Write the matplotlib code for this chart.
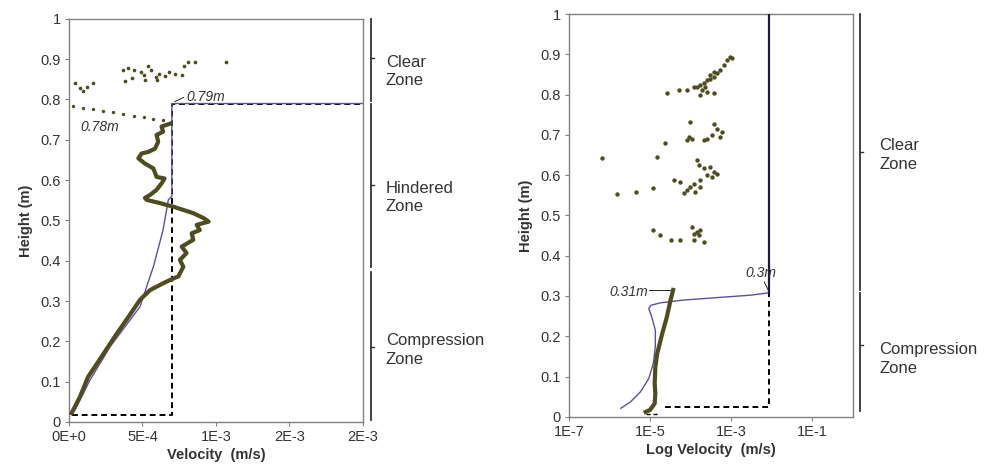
import numpy as np
import matplotlib
matplotlib.use("Agg")
import matplotlib.pyplot as plt

plt.rcParams['font.family'] = ['Liberation Sans', 'DejaVu Sans']

# ---- left panel data (velocity, height) ----
exp_v = [1.8e-5, 7.5e-5, 1.3e-4, 2.2e-4, 3.1e-4, 4.05e-4, 4.83e-4, 5.51e-4, 6.4e-4, 7.1e-4,
         7.44e-4, 7.78e-4, 7.55e-4, 8.0e-4, 7.67e-4, 8.46e-4, 8.35e-4, 8.9e-4, 8.69e-4, 9.5e-4,
         9.2e-4, 8.46e-4, 7.1e-4, 6.19e-4, 5.28e-4, 5.17e-4, 5.51e-4, 5.96e-4, 6.3e-4, 6.5e-4,
         5.96e-4, 5.74e-4, 5.17e-4, 4.72e-4, 4.94e-4, 5.4e-4, 5.85e-4, 6.07e-4, 5.96e-4, 6.4e-4,
         6.3e-4, 6.87e-4]
exp_h = [0.022, 0.063, 0.112, 0.161, 0.211, 0.261, 0.303, 0.327, 0.344, 0.356,
         0.361, 0.385, 0.402, 0.419, 0.435, 0.452, 0.468, 0.476, 0.489, 0.497,
         0.505, 0.518, 0.534, 0.543, 0.551, 0.556, 0.563, 0.576, 0.592, 0.604,
         0.608, 0.629, 0.641, 0.654, 0.666, 0.670, 0.678, 0.695, 0.712, 0.720,
         0.733, 0.740]

tail_v = [6.4e-4, 5.7e-4, 5.1e-4, 4.4e-4, 3.7e-4, 3.0e-4, 2.3e-4, 1.65e-4, 9.8e-5, 2.9e-5]
tail_h = [0.748, 0.752, 0.756, 0.759, 0.763, 0.768, 0.772, 0.776, 0.778, 0.783]

clear_v = [4.1e-5, 7.5e-5, 1.2e-4, 1.65e-4, 9.7e-5, 3.7e-4, 4.0e-4, 4.4e-4, 4.9e-4, 5.4e-4,
           5.6e-4, 5.9e-4, 6.1e-4, 6.5e-4, 6.8e-4, 7.2e-4, 7.7e-4, 7.8e-4, 8.1e-4, 8.6e-4,
           1.07e-3, 3.8e-4, 5.2e-4, 6.0e-4, 5.1e-4, 4.3e-4]
clear_h = [0.840, 0.828, 0.830, 0.840, 0.822, 0.873, 0.878, 0.873, 0.869, 0.882,
           0.872, 0.855, 0.864, 0.859, 0.869, 0.864, 0.861, 0.882, 0.894, 0.894,
           0.892, 0.845, 0.849, 0.849, 0.861, 0.853]

model_v = [4.1e-5, 1.43e-4, 2.8e-4, 4.83e-4, 5.74e-4, 6.4e-4, 6.76e-4, 7.0e-4, 7.0e-4, 2.0e-3]
model_h = [0.030, 0.104, 0.187, 0.286, 0.385, 0.476, 0.551, 0.560, 0.790, 0.790]

ideal_v = [1.8e-5, 7.0e-4, 7.0e-4, 2.0e-3]
ideal_h = [0.017, 0.017, 0.790, 0.790]

# ---- right panel data ----
exp2_v = [7.8e-6, 1.0e-5, 1.3e-5, 1.35e-5, 1.3e-5, 1.35e-5, 1.5e-5, 2.0e-5, 2.6e-5, 3.2e-5, 3.7e-5]
exp2_h = [0.012, 0.017, 0.033, 0.058, 0.083, 0.124, 0.157, 0.207, 0.248, 0.290, 0.315]

dots2_v = [7.8e-4, 9.4e-4, 1.04e-3, 6.5e-4, 5.4e-4, 4.4e-4, 3.7e-4, 3.0e-4, 2.5e-4, 2.1e-4,
           1.7e-4, 1.4e-4, 1.2e-4, 3.7e-4, 3.0e-4, 2.3e-4, 1.9e-4, 2.5e-4, 3.7e-4, 1.7e-4,
           5.1e-5, 2.6e-5, 8.1e-5,
           9.8e-5, 3.7e-4, 4.4e-4, 5.9e-4, 5.4e-4, 3.3e-4, 2.5e-4, 2.1e-4, 8.9e-5, 8.1e-5,
           1.1e-4, 2.4e-5,
           1.5e-5, 6.6e-7, 1.4e-4, 1.6e-4, 2.1e-4, 3.0e-4, 3.7e-4, 3.3e-4, 4.4e-4, 2.5e-4,
           1.7e-4, 1.2e-4, 9.8e-5, 8.1e-5, 6.7e-5, 1.3e-4, 1.7e-4, 3.8e-5, 5.6e-5, 1.2e-5,
           4.4e-6, 1.5e-6,
           1.2e-5, 1.8e-5, 3.2e-5, 5.6e-5, 1.2e-4, 1.4e-4, 1.7e-4, 2.1e-4, 1.2e-4, 1.6e-4,
           1.1e-4]
dots2_h = [0.886, 0.894, 0.890, 0.873, 0.861, 0.853, 0.844, 0.840, 0.836, 0.828,
           0.824, 0.820, 0.820, 0.857, 0.849, 0.820, 0.811, 0.807, 0.803, 0.799,
           0.811, 0.803, 0.811,
           0.733, 0.728, 0.716, 0.708, 0.695, 0.700, 0.691, 0.687, 0.695, 0.687,
           0.691, 0.679,
           0.646, 0.642, 0.637, 0.625, 0.617, 0.621, 0.608, 0.596, 0.604, 0.600,
           0.588, 0.579, 0.571, 0.563, 0.555, 0.559, 0.571, 0.588, 0.584, 0.567,
           0.559, 0.553,
           0.464, 0.451, 0.439, 0.439, 0.455, 0.459, 0.464, 0.435, 0.439, 0.451,
           0.472]

model2_v = [1.9e-6, 3.3e-6, 5.8e-6, 9.3e-6, 1.2e-5, 1.35e-5, 1.35e-5, 1.1e-5, 9.3e-6, 1.05e-5,
            1.8e-5, 6.8e-5, 4.5e-4, 3.0e-3, 8.7e-3, 8.7e-3]
model2_h = [0.021, 0.037, 0.062, 0.095, 0.132, 0.174, 0.215, 0.248, 0.269, 0.277,
            0.283, 0.290, 0.296, 0.302, 0.308, 1.0]

ideal2_v = [2.4e-5, 8.7e-3, 8.7e-3]
ideal2_h = [0.025, 0.025, 1.0]

olive = '#4f4c1f'
purple = '#5b4fa3'
spine_c = '#808080'
txt_c = '#333333'

fig = plt.figure(figsize=(9.86, 4.72), dpi=100)
ax1 = fig.add_axes([0.070, 0.106, 0.298, 0.854])
ax2 = fig.add_axes([0.577, 0.117, 0.288, 0.853])

for ax in (ax1, ax2):
    for s in ax.spines.values():
        s.set_color(spine_c)
        s.set_linewidth(1.0)
    ax.tick_params(direction='out', length=3, color=spine_c, labelsize=10.5, pad=3, labelcolor=txt_c)
    ax.set_ylim(0, 1)
    ax.set_yticks(np.arange(0, 1.01, 0.1))
    ax.set_yticklabels(['0', '0.1', '0.2', '0.3', '0.4', '0.5', '0.6', '0.7', '0.8', '0.9', '1'])
    ax.set_ylabel('Height (m)', fontweight='bold', fontsize=10.5, labelpad=5, color=txt_c)

# left panel
ax1.set_xlim(0, 2e-3)
ax1.set_xticks([0, 5e-4, 1e-3, 1.5e-3, 2e-3])
ax1.set_xticklabels(['0E+0', '5E-4', '1E-3', '2E-3', '2E-3'])
ax1.set_xlabel('Velocity  (m/s)', fontweight='bold', fontsize=10.5, labelpad=3, color=txt_c)

ax1.plot(ideal_v, ideal_h, color='black', lw=1.4, ls=(0, (3, 2)), zorder=2)
ax1.plot(model_v, model_h, color=purple, lw=1.0, zorder=3)
ax1.plot(exp_v, exp_h, color=olive, lw=3.0, zorder=4)
ax1.scatter(tail_v, tail_h, s=6, color=olive, zorder=4, linewidths=0)
ax1.scatter(clear_v, clear_h, s=7, color=olive, zorder=4, linewidths=0)

ax1.text(8.0e-4, 0.805, '0.79m', style='italic', fontsize=10, va='center', color=txt_c)
ax1.plot([7.2e-4, 7.8e-4], [0.795, 0.805], color='black', lw=0.6)
ax1.text(7.5e-5, 0.733, '0.78m', style='italic', fontsize=10, va='center', color=txt_c)

# right panel
ax2.set_xscale('log')
ax2.set_xlim(1e-7, 1)
ax2.set_xticks([1e-7, 1e-5, 1e-3, 1e-1])
ax2.set_xticklabels(['1E-7', '1E-5', '1E-3', '1E-1'])
ax2.minorticks_off()
ax2.set_xlabel('Log Velocity  (m/s)', fontweight='bold', fontsize=10.5, labelpad=3, color=txt_c)

ax2.plot(ideal2_v, ideal2_h, color='black', lw=1.4, ls=(0, (3, 2)), zorder=2)
ax2.plot([8e-6, 1.8e-5], [0.008, 0.008], color='black', lw=1.0, ls=(0, (3, 2)), zorder=2)
ax2.plot(model2_v, model2_h, color=purple, lw=1.0, zorder=3)
ax2.plot(model2_v[-2:], model2_h[-2:], color='#1c1840', lw=1.6, zorder=3)
ax2.plot(exp2_v, exp2_h, color=olive, lw=3.0, zorder=4)
ax2.scatter(dots2_v, dots2_h, s=10, color=olive, zorder=4, linewidths=0)

ax2.text(9e-6, 0.310, '0.31m', style='italic', fontsize=10, va='center', ha='right', color=txt_c)
ax2.plot([9.5e-6, 3.7e-5], [0.315, 0.315], color='black', lw=0.6)
ax2.text(2.2e-3, 0.356, '0.3m', style='italic', fontsize=10, va='center', color=txt_c)
ax2.plot([6.5e-3, 8.7e-3], [0.335, 0.31], color='black', lw=0.6)

# zone brackets
def bracket(ax, x, y0, y1, ym):
    tr = ax.get_yaxis_transform()
    ax.plot([x, x], [y0, y1], color='#333333', lw=1.3, transform=tr, clip_on=False)
    ax.plot([x, x + 0.012], [ym, ym], color='#333333', lw=1.0, transform=tr, clip_on=False)

bracket(ax1, 1.027, 1.0, 0.796, 0.902)
bracket(ax1, 1.027, 0.790, 0.385, 0.588)
bracket(ax1, 1.027, 0.372, 0.004, 0.186)
tr1 = ax1.get_yaxis_transform()
ax1.text(1.078, 0.869, 'Clear\nZone', transform=tr1, fontsize=12, va='center', ha='left', color=txt_c, linespacing=1.3)
ax1.text(1.078, 0.557, 'Hindered\nZone', transform=tr1, fontsize=12, va='center', ha='left', color=txt_c, linespacing=1.3)
ax1.text(1.078, 0.178, 'Compression\nZone', transform=tr1, fontsize=12, va='center', ha='left', color=txt_c, linespacing=1.3)

bracket(ax2, 1.025, 1.0, 0.316, 0.658)
bracket(ax2, 1.025, 0.308, 0.015, 0.178)
tr2 = ax2.get_yaxis_transform()
ax2.text(1.092, 0.650, 'Clear\nZone', transform=tr2, fontsize=12, va='center', ha='left', color=txt_c, linespacing=1.3)
ax2.text(1.092, 0.144, 'Compression\nZone', transform=tr2, fontsize=12, va='center', ha='left', color=txt_c, linespacing=1.3)

fig.savefig('out.png', dpi=100)
